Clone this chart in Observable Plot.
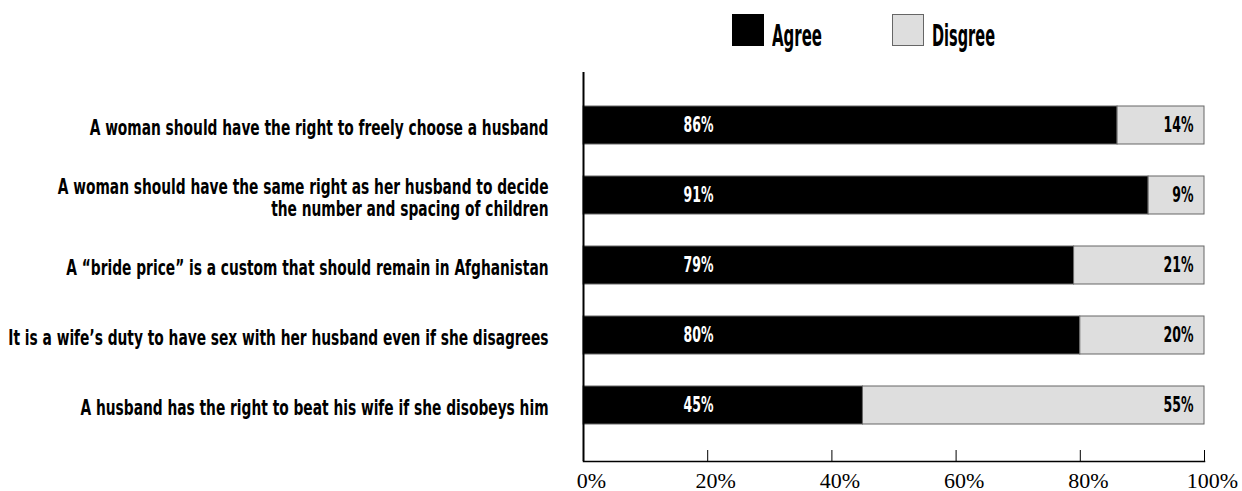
<!DOCTYPE html>
<html>
<head>
<meta charset="utf-8">
<script src="https://cdn.jsdelivr.net/npm/d3@7"></script>
<script src="https://cdn.jsdelivr.net/npm/@observablehq/plot@0.6"></script>
<style>
  html, body { margin: 0; padding: 0; background: #fff; }
  #wrap { position: relative; width: 1242px; }
  #legend { position: relative; height: 60px; width: 1242px; }
  .sw { position: absolute; top: 14px; width: 32px; height: 32px; box-sizing: border-box; }
  .lab { position: absolute; top: 21px; display: inline-block; font-family: "Liberation Sans Narrow", "DejaVu Sans", sans-serif; font-stretch: condensed; font-weight: bold; font-size: 30px; line-height: 30px; transform-origin: left center; color: #000; white-space: nowrap; }
  svg text.sq { font-stretch: condensed; }
</style>
</head>
<body>
<div id="wrap">
  <div id="legend"></div>
  <div id="chart"></div>
</div>
<script>
const statements = [
  "A woman should have the right to freely choose a husband",
  "A woman should have the same right as her husband to decide\nthe number and spacing of children",
  "A \u201cbride price\u201d is a custom that should remain in Afghanistan",
  "It is a wife\u2019s duty to have sex with her husband even if she disagrees",
  "A husband has the right to beat his wife if she disobeys him"
];
const agree = [86, 91, 79, 80, 45];
const disagree = [14, 9, 21, 20, 55];
const responses = ["Agree", "Disgree"];
const colors = ["#000000", "#dedede"];
const xTicks = [0, 20, 40, 60, 80, 100];

const rows = [];
statements.forEach((s, i) => {
  rows.push({statement: s, response: "Agree", value: agree[i]});
  rows.push({statement: s, response: "Disgree", value: disagree[i]});
});

// legend
const legend = document.getElementById("legend");
const legPos = [{sw: 732, tx: 772, w: 50}, {sw: 892, tx: 932, w: 63}];
responses.forEach((r, i) => {
  const sw = document.createElement("div");
  sw.className = "sw";
  sw.style.left = legPos[i].sw + "px";
  sw.style.background = colors[i];
  sw.style.border = "1px solid " + (i === 0 ? "#000" : "#666");
  legend.appendChild(sw);
  const t = document.createElement("span");
  t.className = "lab";
  t.style.left = legPos[i].tx + "px";
  t.textContent = r;
  legend.appendChild(t);
  const s = legPos[i].w / t.getBoundingClientRect().width;
  t.style.transform = `scaleX(${s})`;
});

const font = "Liberation Sans Narrow, DejaVu Sans, sans-serif";

const chart = Plot.plot({
  width: 1242,
  height: 431,
  marginLeft: 583,
  marginRight: 38,
  marginTop: 12,
  marginBottom: 30,
  style: {background: "#fff", overflow: "visible"},
  x: {domain: [0, 100], label: null},
  y: {domain: statements, label: null, padding: 0.457, insetTop: 2, insetBottom: 5},
  color: {domain: responses, range: colors},
  marks: [
    Plot.barX(rows, Plot.stackX({x: "value", y: "statement", fill: "response", order: responses, stroke: "#666", strokeWidth: 1})),
    Plot.text(rows.filter(d => d.response === "Agree"), {
      x: 0, y: "statement", text: d => d.value + "%", dx: 100, textAnchor: "start",
      fill: "white", fontFamily: font, fontWeight: "bold", fontSize: 21
    }),
    Plot.text(rows.filter(d => d.response === "Disgree"), {
      x: 100, y: "statement", text: d => d.value + "%", dx: -11, textAnchor: "end",
      fill: "black", fontFamily: font, fontWeight: "bold", fontSize: 21
    }),
    Plot.ruleX([0], {stroke: "#000", strokeWidth: 2}),
    Plot.ruleX(xTicks, {stroke: "#000", strokeWidth: 1, insetTop: 378}),
    Plot.frame({anchor: "bottom", stroke: "#000", strokeWidth: 1.5}),
    Plot.axisX({
      ticks: xTicks, tickSize: 0, tickPadding: 11, tickFormat: d => d + "%", dx: 8,
      fontFamily: "Liberation Serif, DejaVu Serif, serif", fontSize: 22, fill: "#000"
    }),
    Plot.axisY({
      tickSize: 0, tickPadding: 35, textAnchor: "end", lineHeight: 1.05, dy: 2,
      fontFamily: font, fontWeight: "bold", fontSize: 21, fill: "#000"
    })
  ]
});
document.getElementById("chart").appendChild(chart);

// condense the label texts horizontally (the reference uses an extra-condensed face)
function squeeze(texts, targetWidth) {
  texts = Array.from(texts);
  if (!texts.length) return;
  texts.forEach(t => t.classList.add("sq"));
  const w = texts[0].getBBox().width;
  const s = Math.min(1, targetWidth / w);
  texts.forEach(t => {
    const tr = t.getAttribute("transform");
    if (tr) t.setAttribute("transform", tr + ` scale(${s},1)`);
    else {
      const x = +(t.getAttribute("x") || 0), y = +(t.getAttribute("y") || 0);
      t.removeAttribute("x"); t.removeAttribute("y");
      t.setAttribute("transform", `translate(${x},${y}) scale(${s},1)`);
    }
  });
}
squeeze(chart.querySelectorAll('g[aria-label="y-axis tick label"] text'), 459);
const textGroups = chart.querySelectorAll('g[aria-label="text"]');
const valueTexts = [];
textGroups.forEach(g => g.querySelectorAll("text").forEach(t => valueTexts.push(t)));
squeeze(valueTexts, 30);
</script>
</body>
</html>
